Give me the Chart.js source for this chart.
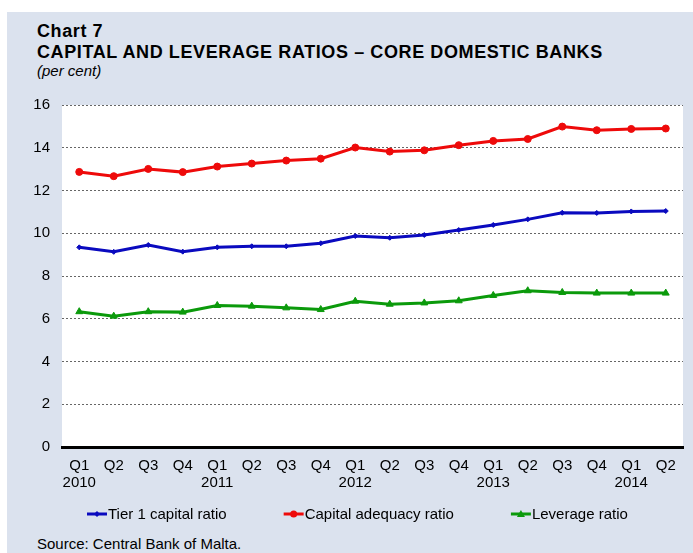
<!DOCTYPE html>
<html>
<head>
<meta charset="utf-8">
<script src="https://cdn.jsdelivr.net/npm/chart.js"></script>
<style>
  html, body { margin: 0; padding: 0; background: #fff; }
  body { width: 693px; height: 553px; position: relative; overflow: hidden; font-family: "Liberation Sans", Arial, sans-serif; }
  #panel { position: absolute; left: 7px; top: 12px; width: 686px; height: 541px; background: #dbe2ee; }
  .title { position: absolute; left: 30px; font-weight: bold; font-size: 18px; line-height: 18px; letter-spacing: 0.6px; color: #000; white-space: nowrap; }
  #t1 { top: 9.5px; }
  #t2 { top: 30.5px; }
  #unit { position: absolute; left: 30px; top: 51px; font-style: italic; font-size: 15px; line-height: 15px; color: #000; }
  #source { position: absolute; left: 30px; top: 523.5px; font-size: 15px; line-height: 15px; color: #000; }
  #wrap { position: absolute; left: 0; top: 72px; width: 686px; height: 446px; }
</style>
</head>
<body>
<div id="panel">
  <div class="title" id="t1">Chart 7</div>
  <div class="title" id="t2">CAPITAL AND LEVERAGE RATIOS – CORE DOMESTIC BANKS</div>
  <div id="unit">(per cent)</div>
  <div id="wrap"><canvas id="chart"></canvas></div>
  <div id="source">Source: Central Bank of Malta.</div>
</div>
<script>
const quarters = ['Q1', 'Q2', 'Q3', 'Q4', 'Q1', 'Q2', 'Q3', 'Q4', 'Q1', 'Q2', 'Q3', 'Q4', 'Q1', 'Q2', 'Q3', 'Q4', 'Q1', 'Q2'];
const years = ['2010', '', '', '', '2011', '', '', '', '2012', '', '', '', '2013', '', '', '', '2014', ''];

const tier1 = [9.34, 9.13, 9.45, 9.14, 9.34, 9.39, 9.39, 9.53, 9.87, 9.79, 9.92, 10.15, 10.39, 10.65, 10.96, 10.95, 11.02, 11.04];
const capitalAdequacy = [12.87, 12.67, 13.01, 12.86, 13.12, 13.26, 13.40, 13.49, 14.01, 13.82, 13.88, 14.12, 14.32, 14.41, 14.99, 14.82, 14.88, 14.90];
const leverage = [6.33, 6.12, 6.33, 6.31, 6.62, 6.59, 6.51, 6.43, 6.82, 6.68, 6.74, 6.84, 7.09, 7.31, 7.23, 7.20, 7.20, 7.20];

const yTicks = [0, 2, 4, 6, 8, 10, 12, 14, 16];

const BLUE = '#0a0abf';
const RED = '#ee0a0a';
const GREEN = '#0b9a0b';
const FONT = 'Liberation Sans';

function marker(g, style, x, y) {
  g.beginPath();
  if (style === 'circle') {
    g.arc(x, y, 3.5, 0, Math.PI * 2);
  } else if (style === 'triangle') {
    g.moveTo(x, y - 4); g.lineTo(x + 4, y + 3); g.lineTo(x - 4, y + 3); g.closePath();
  } else {
    g.moveTo(x, y - 3); g.lineTo(x + 3, y); g.lineTo(x, y + 3); g.lineTo(x - 3, y); g.closePath();
  }
  g.fill();
}

// white plot area on the grey panel
const plotBg = {
  id: 'plotBg',
  beforeDraw(chart) {
    const { ctx, chartArea: a } = chart;
    ctx.save();
    ctx.fillStyle = '#fff';
    ctx.fillRect(a.left, a.top, a.right - a.left, a.bottom - a.top);
    ctx.restore();
  }
};

// legend row under the axis: short line + marker, then the label
const lineLegend = {
  id: 'lineLegend',
  afterDraw(chart) {
    const { ctx, chartArea: a } = chart;
    const y = a.bottom + 67;
    let x = a.left + 25;
    ctx.save();
    ctx.font = '15px "' + FONT + '"';
    ctx.textBaseline = 'middle';
    chart.data.datasets.forEach(d => {
      ctx.strokeStyle = d.borderColor;
      ctx.fillStyle = d.borderColor;
      ctx.lineWidth = 3;
      ctx.beginPath(); ctx.moveTo(x, y); ctx.lineTo(x + 20, y); ctx.stroke();
      marker(ctx, d.pointStyle, x + 10, y);
      ctx.fillStyle = '#000';
      ctx.fillText(d.label, x + 21, y + 1);
      x += 21 + ctx.measureText(d.label).width + 57;
    });
    ctx.restore();
  }
};

function series(label, data, color, style, radius) {
  return {
    label, data,
    borderColor: color, backgroundColor: color,
    borderWidth: 3,
    pointStyle: style, pointRadius: radius, pointHoverRadius: radius,
    pointBorderWidth: 1,
    tension: 0
  };
}

new Chart(document.getElementById('chart'), {
  type: 'line',
  data: {
    labels: quarters.map((q, i) => years[i] ? [q, years[i]] : q),
    datasets: [
      series('Tier 1 capital ratio', tier1, BLUE, 'rectRot', 2.5),
      series('Capital adequacy ratio', capitalAdequacy, RED, 'circle', 3.5),
      series('Leverage ratio', leverage, GREEN, 'triangle', 4)
    ]
  },
  options: {
    responsive: true,
    maintainAspectRatio: false,
    animation: false,
    layout: { padding: { left: 0, right: 10, top: 8, bottom: 35 } },
    plugins: {
      tooltip: { enabled: false },
      legend: { display: false }
    },
    scales: {
      x: {
        offset: true,
        grid: { display: false, drawTicks: false },
        border: { display: true, color: '#000', width: 3 },
        ticks: {
          color: '#000',
          font: { family: FONT, size: 15, lineHeight: 1.13 },
          maxRotation: 0, autoSkip: false, padding: 10
        },
        afterFit(scale) { scale.height = 48; }
      },
      y: {
        min: 0, max: 16,
        afterBuildTicks(scale) { scale.ticks = yTicks.map(v => ({ value: v })); },
        grid: {
          color: ctx => ctx.tick.value === 0 ? 'rgba(0,0,0,0)' : '#666',
          lineWidth: 1,
          drawTicks: false
        },
        border: { display: false, dash: [2, 2] },
        ticks: {
          color: '#000',
          font: { family: FONT, size: 15 },
          padding: 12
        },
        afterFit(scale) { scale.width = 55; }
      }
    }
  },
  plugins: [plotBg, lineLegend]
});
</script>
</body>
</html>
